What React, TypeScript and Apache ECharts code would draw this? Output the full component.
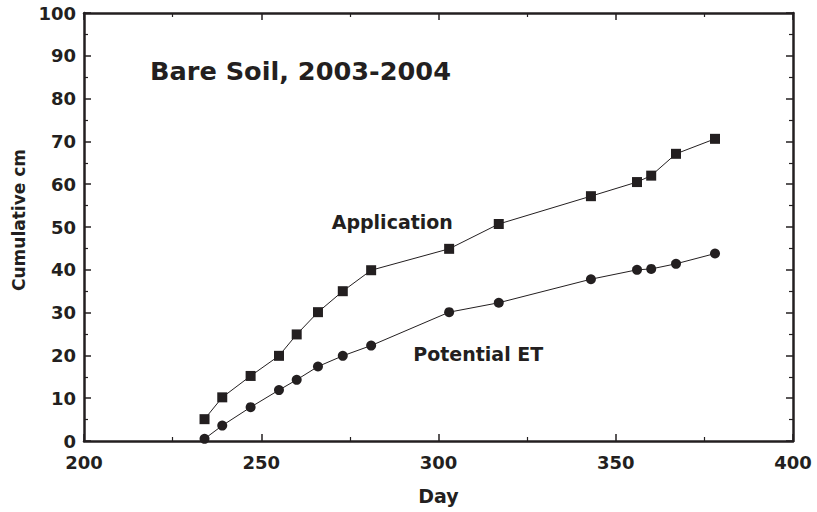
import React, { useEffect, useRef } from "react";
import * as echarts from "echarts";

const days = [234, 239, 247, 255, 260, 266, 273, 281, 303, 317, 343, 356, 360, 367, 378];
const application = [5.1, 10.2, 15.2, 19.9, 24.9, 30.1, 35.0, 39.9, 44.9, 50.7, 57.2, 60.5, 62.0, 67.1, 70.6];
const potentialET = [0.5, 3.6, 7.9, 11.9, 14.3, 17.4, 19.9, 22.3, 30.1, 32.3, 37.8, 40.0, 40.2, 41.4, 43.8];

const xMin = 200;
const xMax = 400;
const xInterval = 50;
const yMin = 0;
const yMax = 100;
const yInterval = 10;

const INK = "#231f20";
const FONT = "'DejaVu Sans', 'Liberation Sans', Arial, sans-serif";

export default function App() {
  const ref = useRef<HTMLDivElement>(null);

  useEffect(() => {
    if (!ref.current) return;
    const chart = echarts.init(ref.current, undefined, { renderer: "svg" });

    const axisLine = { show: true, onZero: false, lineStyle: { color: INK, width: 2.5 } };
    const axisTick = { show: true, inside: true, length: 7, lineStyle: { color: INK, width: 1.5 } };
    const minorTick = { show: true, splitNumber: 2, length: 4, lineStyle: { color: INK, width: 1.2 } };
    const labelStyle = { color: INK, fontFamily: FONT, fontWeight: "bold" as const, fontSize: 18 };

    chart.setOption({
      animation: false,
      backgroundColor: "#ffffff",
      grid: { left: 84, right: 24, top: 13, bottom: 71, containLabel: false },
      xAxis: [
        {
          type: "value",
          position: "bottom",
          min: xMin,
          max: xMax,
          interval: xInterval,
          axisLine,
          axisTick,
          minorTick,
          splitLine: { show: false },
          axisLabel: { ...labelStyle, margin: 12 },
        },
        {
          type: "value",
          position: "top",
          min: xMin,
          max: xMax,
          interval: xInterval,
          axisLine,
          axisTick,
          minorTick,
          splitLine: { show: false },
          axisLabel: { show: false },
        },
      ],
      yAxis: [
        {
          type: "value",
          position: "left",
          min: yMin,
          max: yMax,
          interval: yInterval,
          axisLine,
          axisTick,
          minorTick,
          splitLine: { show: false },
          axisLabel: { ...labelStyle, margin: 8 },
        },
        {
          type: "value",
          position: "right",
          min: yMin,
          max: yMax,
          interval: yInterval,
          axisLine,
          axisTick,
          minorTick,
          splitLine: { show: false },
          axisLabel: { show: false },
        },
      ],
      series: [
        {
          name: "Application",
          type: "line",
          xAxisIndex: 0,
          yAxisIndex: 0,
          data: days.map((d, i) => [d, application[i]]),
          symbol: "rect",
          symbolSize: 10,
          lineStyle: { color: INK, width: 1 },
          itemStyle: { color: INK },
        },
        {
          name: "Potential ET",
          type: "line",
          xAxisIndex: 0,
          yAxisIndex: 0,
          data: days.map((d, i) => [d, potentialET[i]]),
          symbol: "circle",
          symbolSize: 10,
          lineStyle: { color: INK, width: 1 },
          itemStyle: { color: INK },
        },
      ],
      graphic: [
        {
          type: "text",
          x: 150,
          y: 70.5,
          style: {
            text: "Bare Soil, 2003-2004",
            fill: INK,
            font: `bold 25.6px ${FONT}`,
            textAlign: "left",
            textVerticalAlign: "middle",
          },
        },
        {
          type: "text",
          x: 331.7,
          y: 222,
          style: {
            text: "Application",
            fill: INK,
            font: `bold 19px ${FONT}`,
            textAlign: "left",
            textVerticalAlign: "middle",
          },
        },
        {
          type: "text",
          x: 413.3,
          y: 354,
          style: {
            text: "Potential ET",
            fill: INK,
            font: `bold 19px ${FONT}`,
            textAlign: "left",
            textVerticalAlign: "middle",
          },
        },
        {
          type: "text",
          x: 438.5,
          y: 496,
          style: {
            text: "Day",
            fill: INK,
            font: `bold 19px ${FONT}`,
            textAlign: "center",
            textVerticalAlign: "middle",
          },
        },
        {
          type: "text",
          x: 18.5,
          y: 220,
          rotation: Math.PI / 2,
          style: {
            text: "Cumulative cm",
            fill: INK,
            font: `bold 17px ${FONT}`,
            textAlign: "center",
            textVerticalAlign: "middle",
          },
        },
      ],
    });

    return () => {
      chart.dispose();
    };
  }, []);

  return (
    <div
      ref={ref}
      style={{ position: "fixed", left: 0, top: 0, width: 817, height: 512, background: "#fff" }}
    />
  );
}
